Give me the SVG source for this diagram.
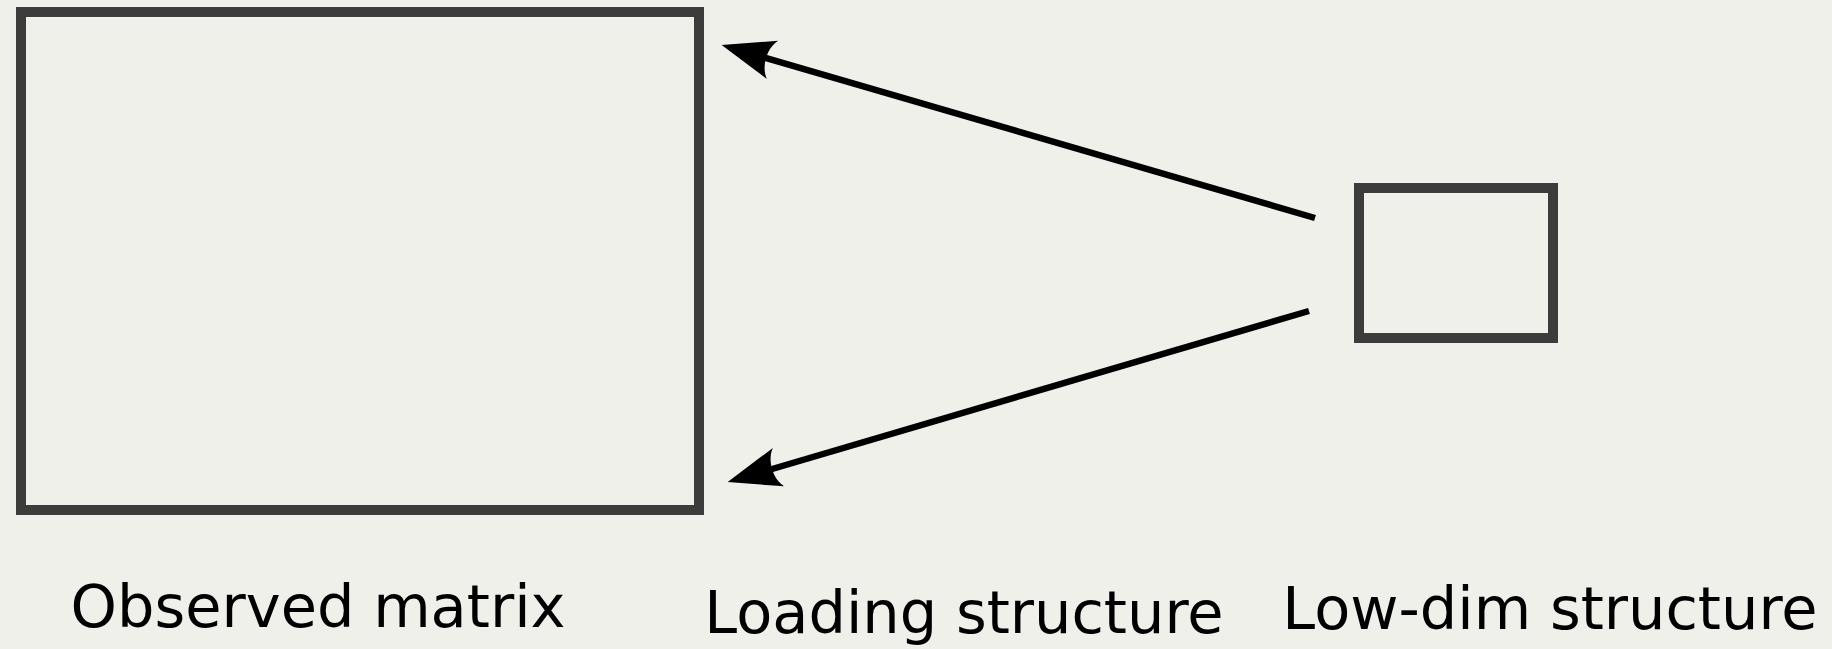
<svg xmlns="http://www.w3.org/2000/svg" width="1832" height="649" viewBox="0 0 1832 649">
<style>
.box{fill:none;stroke:#3c3c3c;stroke-width:10}
.lbl{font-family:"DejaVu Sans",sans-serif;font-size:59px;fill:#000;text-anchor:middle}
.conn{stroke:#000;stroke-width:6.5;fill:none}
</style>
<defs>
<marker id="ah" markerUnits="userSpaceOnUse" orient="auto" markerWidth="1" markerHeight="1" refX="0" refY="0" overflow="visible">
<path d="M41,0 L-12,-20 C-3,-10 -3,10 -12,20 Z" fill="#000"/>
</marker>
</defs>
<rect width="1832" height="649" fill="#f0f0eb"/>
<g id="observed"><rect class="box" x="21" y="12" width="678" height="498"/><text class="lbl" x="318" y="627">Observed matrix</text></g>
<g id="lowdim"><rect class="box" x="1359" y="188" width="194" height="150"/><text class="lbl" x="1550" y="629">Low-dim structure</text></g>
<g id="loading"><text class="lbl" x="964" y="633">Loading structure</text></g>
<g id="connectors">
<line class="conn" x1="1315" y1="218" x2="761" y2="56.5" marker-end="url(#ah)"/>
<line class="conn" x1="1309" y1="311" x2="767" y2="470.5" marker-end="url(#ah)"/>
</g>
</svg>
